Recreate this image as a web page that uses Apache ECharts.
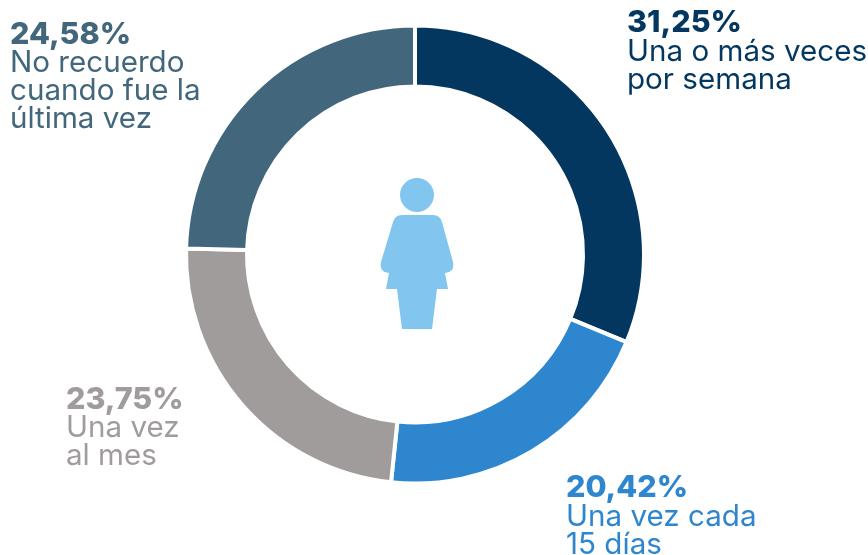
<!DOCTYPE html>
<html><head><meta charset="utf-8">
<style>html,body{margin:0;padding:0;background:#fff}#c{width:868px;height:555px}</style>
<script src="https://cdn.jsdelivr.net/npm/echarts@6/dist/echarts.min.js"></script>
</head><body><div id="c"></div>
<script>
const categories = ['Una o más veces por semana','Una vez cada 15 días','Una vez al mes','No recuerdo cuando fue la última vez'];
const values = [31.25,20.42,23.75,24.58];
const percentLabels = ['31,25%','20,42%','23,75%','24,58%'];
const labelLines = [['Una o más veces','por semana'],['Una vez cada','15 días'],['Una vez','al mes'],['No recuerdo','cuando fue la','última vez']];
const colors = ['#03375f','#2e86cf','#a09c9b','#42667b'];
const labelPos = [[627,38.5,67.5],[566,503.5,532.5],[66,415.5,443.5],[10,50.5,78.5]];
const FONT = 'Inter, sans-serif';
const figure = 'M393 222Q395 215 402 215L433 215Q440 215 442 222L453 262Q455 272 445 273L448 289L437 289L432 329L402 329L397 289L386 289L389 273Q379 272 381 262Z';
echarts.graphic.registerShape('womanBody', echarts.graphic.extendPath(figure, {}));
const graphics = [
  {type:'circle',shape:{cx:417,cy:195,r:17},style:{fill:'#82c6f0'}},
  {type:'womanBody',style:{fill:'#82c6f0'}}
];
percentLabels.forEach((p,i)=>{
  graphics.push({type:'text',x:labelPos[i][0],y:labelPos[i][1],style:{text:p,fill:colors[i],font:'800 30.5px '+FONT,textVerticalAlign:'bottom',verticalAlign:'alphabetic'}});
  labelLines[i].forEach((t,j)=>{
    graphics.push({type:'text',x:labelPos[i][0],y:labelPos[i][2]+j*28,style:{text:t,fill:colors[i],font:'400 29.6px '+FONT,textVerticalAlign:'bottom',verticalAlign:'alphabetic'}});
  });
});
const chart = echarts.init(document.getElementById('c'),null,{renderer:'canvas'});
chart.setOption({
  animation:false,
  series:[{type:'pie',center:[415,254.5],radius:[168,229],startAngle:90,clockwise:true,
    label:{show:false},labelLine:{show:false},emphasis:{disabled:true},
    itemStyle:{borderColor:'#fff',borderWidth:4},
    data:categories.map((n,i)=>({name:n,value:values[i],itemStyle:{color:colors[i]}}))}],
  graphic:graphics
});
</script></body></html>
